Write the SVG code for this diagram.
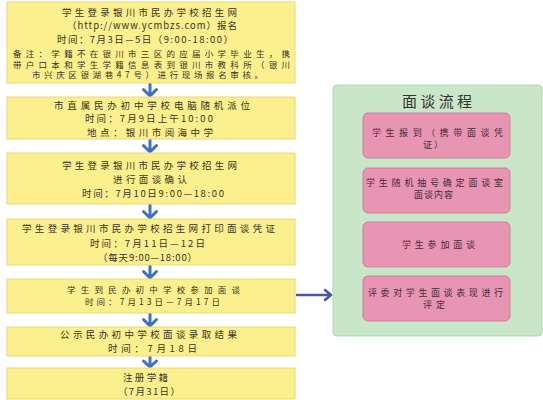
<svg xmlns="http://www.w3.org/2000/svg" width="543" height="400" viewBox="0 0 543 400">
<style>
.step{fill:#fcef8e;stroke:#e8d97c;stroke-width:1}
.panel{fill:#c9e6c9;stroke:#b3d6b3;stroke-width:1}
.sub{fill:#e795b3;stroke:#cf7f9c;stroke-width:1}
text{font-family:"Noto Sans CJK SC","Liberation Serif",serif;font-size:9.5px;fill:#3a3326}
.sm{font-size:8.5px}
.st{fill:#4a2a36;font-size:9px}
.title{font-size:15px;fill:#333}
.dn{stroke:#3f6fc6;stroke-width:3;fill:none;stroke-linecap:round;stroke-linejoin:round}
.rt{stroke:#4a55a8;stroke-width:2.5;fill:none;stroke-linecap:round;stroke-linejoin:round}
</style>
<rect width="543" height="400" fill="#ffffff"/>
<g id="connectors">
<path class="dn" d="M150 84V95M143.5 89.5L150 96L156.5 89.5"/>
<path class="dn" d="M150 140V151M143.5 145.5L150 152L156.5 145.5"/>
<path class="dn" d="M150 205V217M143.5 211.5L150 218L156.5 211.5"/>
<path class="dn" d="M150 266V277M143.5 271.5L150 278L156.5 271.5"/>
<path class="dn" d="M150 314V325M143.5 319.5L150 326L156.5 319.5"/>
<path class="dn" d="M150 357V366M143.5 361L150 367L156.5 361"/>
<path class="rt" d="M297 295H331M325 290L331 295L325 300"/>
</g>
<g id="step1">
<rect class="step" x="7" y="2" width="288" height="81"/>
<text x="62" y="15.5" textLength="175" lengthAdjust="spacing">学生登录银川市民办学校招生网</text>
<text x="67" y="28.5" textLength="170" lengthAdjust="spacing">（http://www.ycmbzs.com）报名</text>
<text x="57" y="43" textLength="176" lengthAdjust="spacing">时间：7月3日—5日（9:00-18:00）</text>
<text class="sm" x="13" y="57" textLength="277" lengthAdjust="spacing">备注：学籍不在银川市三区的应届小学毕业生，携</text>
<text class="sm" x="13" y="67.5" textLength="277" lengthAdjust="spacing">带户口本和学生学籍信息表到银川市教科所（银川</text>
<text class="sm" x="32" y="78" textLength="231" lengthAdjust="spacing">市兴庆区银湖巷47号）进行现场报名审核。</text>
</g>
<g id="step2">
<rect class="step" x="7" y="97" width="288" height="42"/>
<text x="54" y="108.5" textLength="196" lengthAdjust="spacing">市直属民办初中学校电脑随机派位</text>
<text x="85" y="122" textLength="128" lengthAdjust="spacing">时间：7月9日上午10:00</text>
<text x="87" y="135.5" textLength="126" lengthAdjust="spacing">地点：银川市阅海中学</text>
</g>
<g id="step3">
<rect class="step" x="7" y="153" width="288" height="51"/>
<text x="62" y="169" textLength="175" lengthAdjust="spacing">学生登录银川市民办学校招生网</text>
<text x="113" y="183" textLength="74" lengthAdjust="spacing">进行面谈确认</text>
<text x="82" y="196.5" textLength="142" lengthAdjust="spacing">时间：7月10日9:00—18:00</text>
</g>
<g id="step4">
<rect class="step" x="7" y="219" width="288" height="46"/>
<text x="22" y="232" textLength="253" lengthAdjust="spacing">学生登录银川市民办学校招生网打印面谈凭证</text>
<text x="90" y="246.5" textLength="115" lengthAdjust="spacing">时间：7月11日—12日</text>
<text x="98" y="260.5" textLength="99" lengthAdjust="spacing">（每天9:00—18:00）</text>
</g>
<g id="step5">
<rect class="step" x="7" y="279" width="288" height="34"/>
<text class="sm" x="67" y="292.5" textLength="173" lengthAdjust="spacing">学生到民办初中学校参加面谈</text>
<text class="sm" x="85" y="304.5" textLength="135" lengthAdjust="spacing">时间：7月13日—7月17日</text>
</g>
<g id="step6">
<rect class="step" x="7" y="327" width="288" height="29"/>
<text x="60" y="337.5" textLength="177" lengthAdjust="spacing">公示民办初中学校面谈录取结果</text>
<text x="108" y="351.5" textLength="89" lengthAdjust="spacing">时间：7月18日</text>
</g>
<g id="step7">
<rect class="step" x="7" y="368" width="288" height="31"/>
<text x="123" y="380.5" textLength="45" lengthAdjust="spacing">注册学籍</text>
<text x="118" y="394.5" textLength="62" lengthAdjust="spacing">（7月31日）</text>
</g>
<g id="interview-panel">
<rect class="panel" x="333" y="85" width="209" height="251" rx="4"/>
<text class="title" x="402" y="107" textLength="70" lengthAdjust="spacing">面谈流程</text>
</g>
<g id="sub1">
<rect class="sub" x="363" y="113" width="147" height="45" rx="5"/>
<text class="st" x="372" y="135.5" textLength="131" lengthAdjust="spacing">学生报到（携带面谈凭</text>
<text class="st" x="423" y="147.5" textLength="20" lengthAdjust="spacing">证）</text>
</g>
<g id="sub2">
<rect class="sub" x="363" y="168" width="147" height="45" rx="5"/>
<text class="st" x="366" y="185.5" textLength="137" lengthAdjust="spacing">学生随机抽号确定面谈室</text>
<text class="st" x="414" y="197.5" textLength="39" lengthAdjust="spacing">面谈内容</text>
</g>
<g id="sub3">
<rect class="sub" x="363" y="222" width="147" height="45" rx="5"/>
<text class="st" x="402" y="248" textLength="73" lengthAdjust="spacing">学生参加面谈</text>
</g>
<g id="sub4">
<rect class="sub" x="363" y="276" width="147" height="45" rx="5"/>
<text class="st" x="368" y="296" textLength="135" lengthAdjust="spacing">评委对学生面谈表现进行</text>
<text class="st" x="423" y="308" textLength="22" lengthAdjust="spacing">评定</text>
</g>
</svg>
